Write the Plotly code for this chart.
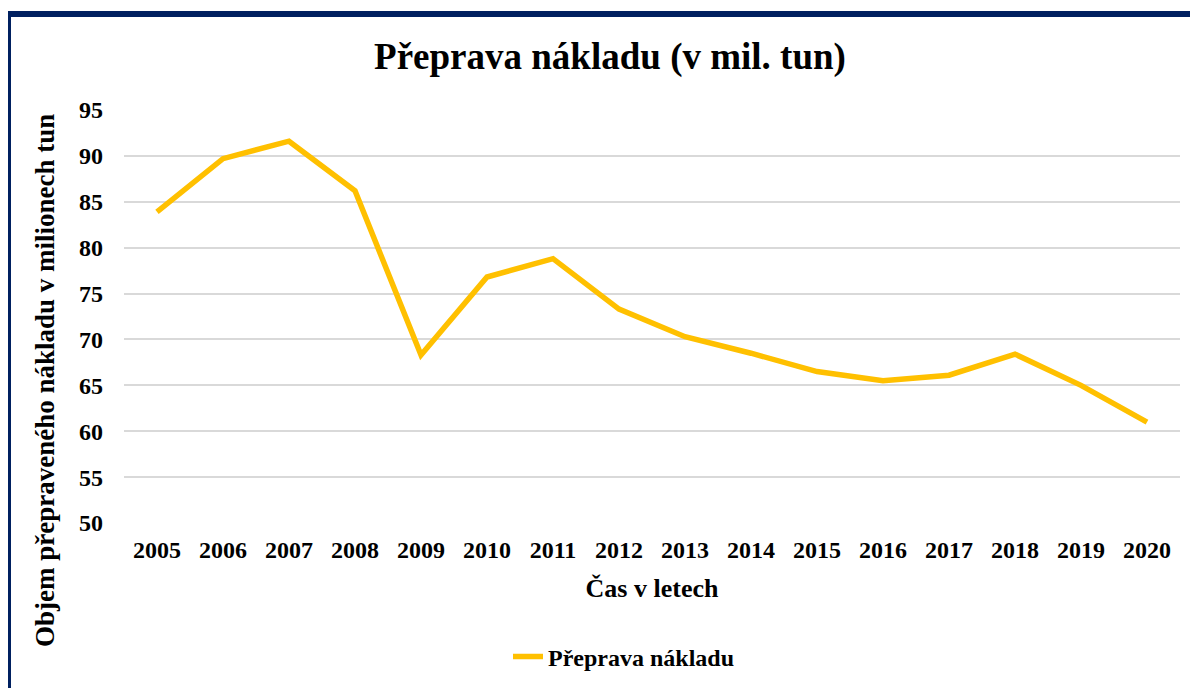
import plotly.graph_objects as go

years = ["2005", "2006", "2007", "2008", "2009", "2010", "2011", "2012",
         "2013", "2014", "2015", "2016", "2017", "2018", "2019", "2020"]
freight = [83.9, 89.7, 91.6, 86.2, 68.3, 76.8, 78.8, 73.3,
           70.3, 68.5, 66.5, 65.5, 66.1, 68.4, 65.0, 61.0]
y_ticks = [50, 55, 60, 65, 70, 75, 80, 85, 90, 95]

series_name = "Přeprava nákladu"
title_text = "Přeprava nákladu (v mil. tun)"
x_title = "Čas v letech"
y_title = "Objem přepraveného nákladu v milionech tun"

# page body has an 8px margin; work in screen pixels and compensate
OFF = 8
SW, SH = 1198, 688
W, H = SW - OFF, SH - OFF
PL, PR, PT, PB = 124, 1180, 110, 523          # plot area in screen px
ML, MR, MT, MB = PL - OFF, SW - PR, PT - OFF, SH - PB
PW, PH = PR - PL, PB - PT

def px_x(px):
    return (px - PL) / PW

def px_y(py):
    return (PB - py) / PH

FONT = "Liberation Serif, Times New Roman, serif"
BOLD = dict(family=FONT, color="black", weight="bold")

fig = go.Figure()
fig.add_trace(go.Scatter(
    x=years, y=freight, mode="lines", name=series_name,
    line=dict(color="#FFC000", width=5.5, shape="linear"),
))

fig.update_layout(
    width=W, height=H,
    margin=dict(l=ML, r=MR, t=MT, b=MB, autoexpand=False),
    paper_bgcolor="white", plot_bgcolor="white",
    font=dict(family=FONT, color="black"),
    title=dict(text=title_text, x=px_x(610), xref="paper",
               xanchor="center", yref="container",
               y=1 - (56 - OFF) / H, yanchor="middle",
               font=dict(size=37, **BOLD)),
    showlegend=True,
    legend=dict(orientation="h", x=px_x(624), xref="paper", xanchor="center",
                y=px_y(657), yanchor="middle",
                font=dict(size=24, **BOLD)),
    xaxis=dict(type="category", range=[-0.5, len(years) - 0.5],
               showgrid=False, zeroline=False,
               showline=False, ticks="",
               tickfont=dict(size=24, **BOLD),
               ticklabelstandoff=10,
               title=dict(text=x_title, standoff=16,
                          font=dict(size=26, **BOLD))),
    yaxis=dict(range=[50, 95], tickvals=y_ticks, showgrid=True,
               gridcolor="#D9D9D9", gridwidth=1.5, zeroline=False,
               showline=False, ticks="", ticklabelstandoff=20,
               tickfont=dict(size=24, **BOLD)),
)

# y-axis title as annotation (centred lower than plot centre)
fig.add_annotation(text=y_title, textangle=-90,
                   xref="paper", yref="paper", x=px_x(45), y=px_y(381),
                   xanchor="center", yanchor="middle", showarrow=False,
                   font=dict(size=27, **BOLD))

# chart-area border (top and left visible)
fig.add_shape(type="rect", xref="paper", yref="paper",
              x0=px_x(8), x1=px_x(SW + 20), y0=px_y(SH + 20), y1=px_y(14),
              line=dict(color="#002060", width=6), fillcolor="rgba(0,0,0,0)",
              layer="above")

fig.write_html("out.html")
